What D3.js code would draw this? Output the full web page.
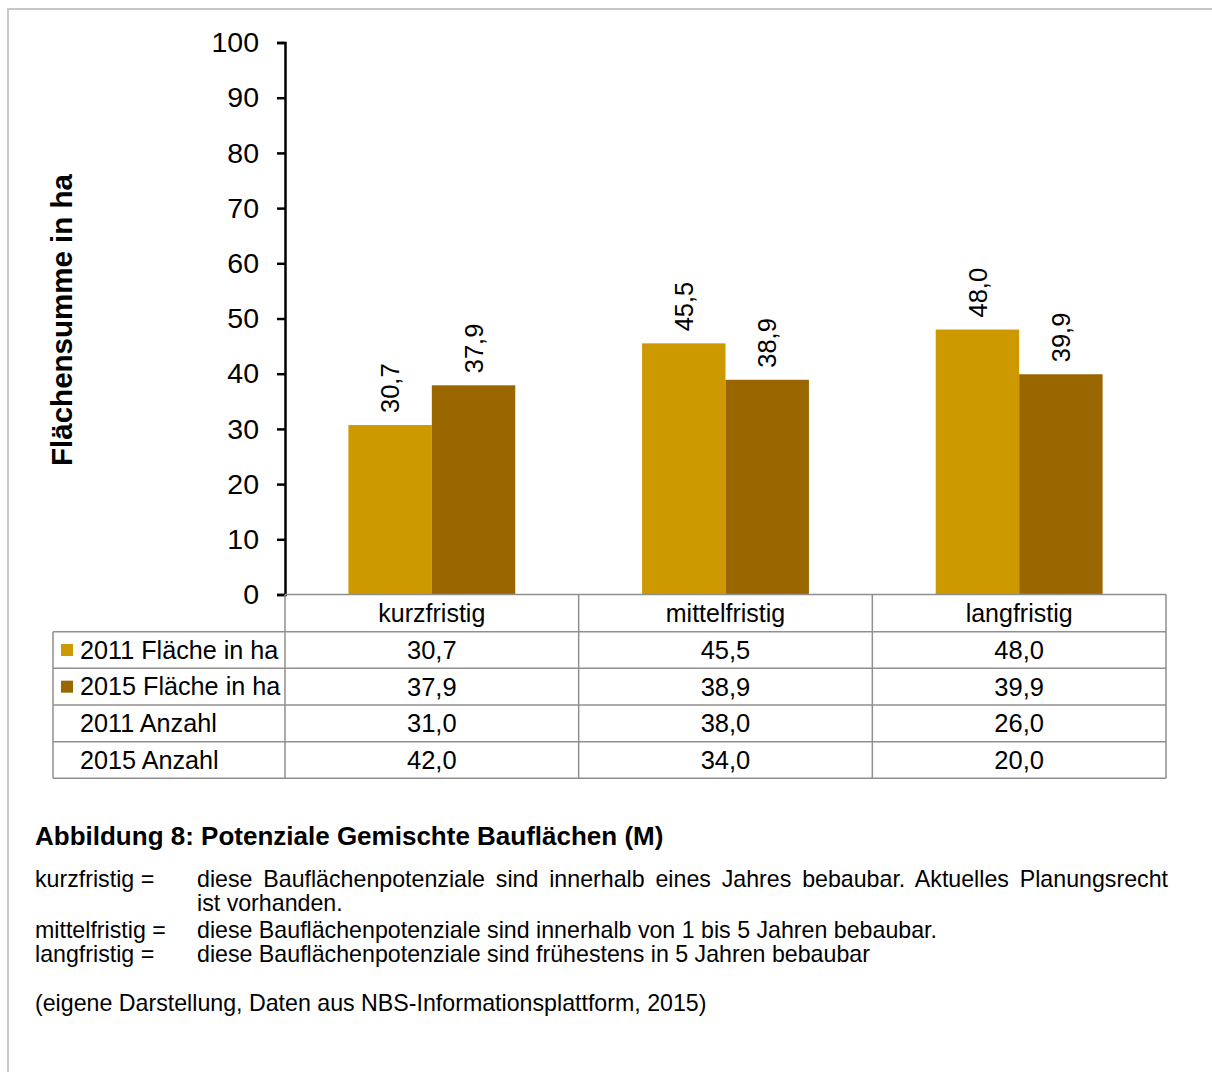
<!DOCTYPE html>
<html>
<head>
<meta charset="utf-8">
<script src="https://cdn.jsdelivr.net/npm/d3@7"></script>
<style>
  body { margin: 0; background: #fff; }
  svg text { font-family: Arial, "Liberation Sans", sans-serif; fill: #000; }
</style>
</head>
<body>
<div id="chart"></div>
<script>
// chart values
const categories = ["kurzfristig", "mittelfristig", "langfristig"];
const seriesNames = ["2011 Fläche in ha", "2015 Fläche in ha"];
const flaeche2011 = [30.7, 45.5, 48.0];
const flaeche2015 = [37.9, 38.9, 39.9];
const anzahl2011 = [31.0, 38.0, 26.0];
const anzahl2015 = [42.0, 34.0, 20.0];
const yTicks = [0, 10, 20, 30, 40, 50, 60, 70, 80, 90, 100];
const rowLabels = ["2011 Fläche in ha", "2015 Fläche in ha", "2011 Anzahl", "2015 Anzahl"];
const yTitle = "Flächensumme in ha";
const caption = "Abbildung 8: Potenziale Gemischte Bauflächen (M)";
const noteTerms = ["kurzfristig =", "", "mittelfristig =", "langfristig ="];
const noteTexts = [
  "diese Bauflächenpotenziale sind innerhalb eines Jahres bebaubar. Aktuelles Planungsrecht",
  "ist vorhanden.",
  "diese Bauflächenpotenziale sind innerhalb von 1 bis 5 Jahren bebaubar.",
  "diese Bauflächenpotenziale sind frühestens in 5 Jahren bebaubar"
];
const source = "(eigene Darstellung, Daten aus NBS-Informationsplattform, 2015)";

const colors = ["#cc9900", "#996600"];
const gridColor = "#8f8f8f";

const W = 1212, H = 1072;
const plot = { left: 285, right: 1166, top: 42.5, bottom: 594.5 };
const table = { left: 53, top: 594.5, header: 37.2, rowH: 36.65 };

const de = d3.formatLocale({ decimal: ",", thousands: ".", grouping: [3], currency: ["", " €"] });
const fmt = de.format(".1f");

const svg = d3.select("#chart").append("svg")
  .attr("width", W)
  .attr("height", H);

// outer frame (top + left only visible)
svg.append("path")
  .attr("d", `M8,${H}V9H${W}`)
  .attr("fill", "none")
  .attr("stroke", "#c8c8c8")
  .attr("stroke-width", 2);

// scales
const x = d3.scaleBand()
  .domain(categories)
  .range([plot.left, plot.right])
  .padding(0);

const xs = d3.scaleBand()
  .domain(seriesNames)
  .range([0, x.bandwidth()])
  .paddingInner(0)
  .paddingOuter(0.76);

const y = d3.scaleLinear()
  .domain([0, 100])
  .range([plot.bottom, plot.top]);

// bars
const barData = [];
categories.forEach((c, i) => {
  barData.push({ cat: c, s: seriesNames[0], v: flaeche2011[i], col: colors[0] });
  barData.push({ cat: c, s: seriesNames[1], v: flaeche2015[i], col: colors[1] });
});

svg.selectAll("rect.bar")
  .data(barData)
  .enter()
  .append("rect")
  .attr("class", "bar")
  .attr("x", d => x(d.cat) + xs(d.s))
  .attr("y", d => y(d.v))
  .attr("width", xs.bandwidth())
  .attr("height", d => y(0) - y(d.v))
  .attr("fill", d => d.col);

// value labels, rotated
svg.selectAll("text.val")
  .data(barData)
  .enter()
  .append("text")
  .attr("class", "val")
  .attr("transform", d => `translate(${x(d.cat) + xs(d.s) + xs.bandwidth() / 2},${y(d.v) - 12}) rotate(-90)`)
  .attr("dy", "0.36em")
  .style("font-size", "25.5px")
  .text(d => fmt(d.v));

// y axis
const yAxis = svg.append("g")
  .attr("transform", `translate(${plot.left},0)`)
  .call(d3.axisLeft(y).tickValues(yTicks).tickSize(8).tickPadding(18));
yAxis.select(".domain").attr("stroke", "#000").attr("stroke-width", 2.5);
yAxis.selectAll(".tick line").attr("stroke", "#000").attr("stroke-width", 2.5);
yAxis.selectAll(".tick text")
  .style("font-size", "28.5px")
  .style("font-family", "Arial, 'Liberation Sans', sans-serif")
  .attr("fill", "#000");

// y title
svg.append("text")
  .attr("transform", "translate(72,320) rotate(-90)")
  .attr("text-anchor", "middle")
  .style("font-size", "29.5px")
  .style("font-weight", "bold")
  .text(yTitle);

// data table
const tableBottom = table.top + table.header + rowLabels.length * table.rowH;
const rowY = d3.scaleBand()
  .domain(rowLabels)
  .range([table.top + table.header, tableBottom]);

const grid = svg.append("g")
  .attr("stroke", gridColor)
  .attr("stroke-width", 1.5)
  .attr("fill", "none");

// baseline / header top
grid.append("line")
  .attr("x1", plot.left).attr("x2", plot.right)
  .attr("y1", table.top).attr("y2", table.top);

// horizontal row lines
rowLabels.forEach(r => {
  grid.append("line")
    .attr("x1", table.left).attr("x2", plot.right)
    .attr("y1", rowY(r)).attr("y2", rowY(r));
});
grid.append("line")
  .attr("x1", table.left).attr("x2", plot.right)
  .attr("y1", tableBottom).attr("y2", tableBottom);

// vertical lines
grid.append("line")
  .attr("x1", table.left).attr("x2", table.left)
  .attr("y1", table.top + table.header).attr("y2", tableBottom);
categories.concat(["end"]).forEach(c => {
  const xx = c === "end" ? plot.right : x(c);
  grid.append("line")
    .attr("x1", xx).attr("x2", xx)
    .attr("y1", table.top).attr("y2", tableBottom);
});

// header texts
svg.selectAll("text.cat")
  .data(categories)
  .enter()
  .append("text")
  .attr("class", "cat")
  .attr("x", d => x(d) + x.bandwidth() / 2)
  .attr("y", table.top + table.header / 2)
  .attr("dy", "0.35em")
  .attr("text-anchor", "middle")
  .style("font-size", "25px")
  .text(d => d);

// row labels + legend swatches
svg.selectAll("text.rowlab")
  .data(rowLabels)
  .enter()
  .append("text")
  .attr("class", "rowlab")
  .attr("x", 80)
  .attr("y", d => rowY(d) + rowY.bandwidth() / 2)
  .attr("dy", "0.35em")
  .style("font-size", "25.2px")
  .text(d => d);

svg.selectAll("rect.swatch")
  .data(seriesNames)
  .enter()
  .append("rect")
  .attr("class", "swatch")
  .attr("x", 61)
  .attr("y", d => rowY(d) + rowY.bandwidth() / 2 - 6)
  .attr("width", 12)
  .attr("height", 12)
  .attr("fill", (d, i) => colors[i]);

// cell values
const rowValues = [flaeche2011, flaeche2015, anzahl2011, anzahl2015];
rowValues.forEach((vals, r) => {
  svg.selectAll(null)
    .data(vals)
    .enter()
    .append("text")
    .attr("x", (d, i) => x(categories[i]) + x.bandwidth() / 2)
    .attr("y", rowY(rowLabels[r]) + rowY.bandwidth() / 2)
    .attr("dy", "0.35em")
    .attr("text-anchor", "middle")
    .style("font-size", "25.5px")
    .text(d => fmt(d));
});

// caption + notes
svg.append("text")
  .attr("x", 35)
  .attr("y", 845)
  .style("font-size", "26px")
  .style("font-weight", "bold")
  .text(caption);

const noteY = [887, 910.5, 937.5, 962];
noteTerms.forEach((t, i) => {
  svg.append("text").attr("x", 35).attr("y", noteY[i])
    .style("font-size", "23.2px").text(t);
  const line = svg.append("text").attr("x", 197).attr("y", noteY[i])
    .style("font-size", "23.2px").text(noteTexts[i]);
  // first line is justified in the source document
  if (i === 0) {
    const natural = line.node().getComputedTextLength();
    const gaps = noteTexts[i].split(" ").length - 1;
    line.style("word-spacing", ((1168 - 197 - natural) / gaps) + "px");
  }
});

svg.append("text")
  .attr("x", 35)
  .attr("y", 1011)
  .style("font-size", "23.2px")
  .text(source);
</script>
</body>
</html>
